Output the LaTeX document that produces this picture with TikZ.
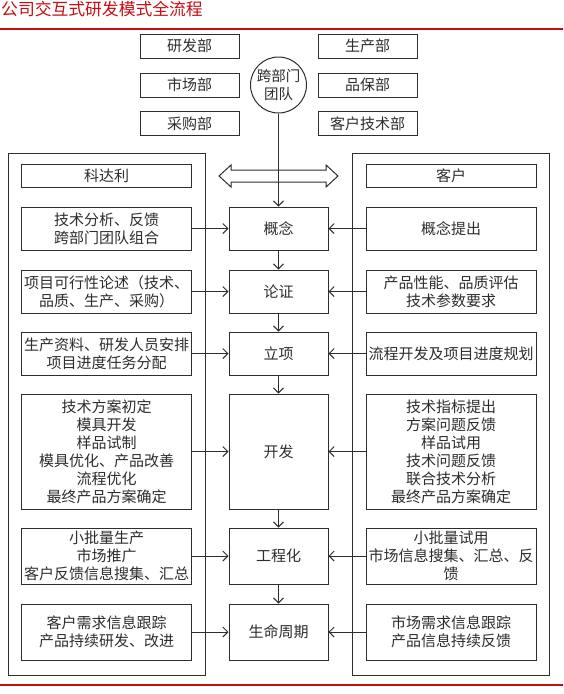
\documentclass[tikz,border=0pt]{standalone}
\usepackage{fontspec}
\setmainfont{Noto Sans CJK SC}
\usetikzlibrary{arrows.meta}
\definecolor{redline}{RGB}{200,12,20}
\definecolor{ink}{RGB}{45,45,45}
\begin{document}
\begin{tikzpicture}[x=1pt,y=-1pt,
  box/.style={draw=ink, line width=1pt, inner sep=0pt, align=center, text=ink,
              font=\fontsize{15}{18}\selectfont},
  subbox/.style={box, minimum width=170, minimum height=#1},
  midbox/.style={box, minimum width=99, minimum height=#1},
  dept/.style={box, minimum width=99, minimum height=24},
  frame/.style={draw=ink, line width=1pt},
  arr/.style={draw=ink, line width=1pt, -{Straight Barb[length=5pt,width=10pt]}},
  redrule/.style={draw=redline, line width=2.5pt}]
\fill[white] (0,0) rectangle (563,694);
\useasboundingbox (0,0) rectangle (563,694);

% title and rules
\node[anchor=west, inner sep=0pt, text=redline, font=\fontsize{16.8}{17}\selectfont] (title) at (1,9) {公司交互式研发模式全流程};
\draw[redrule] (0,29) -- (563,29);
\draw[redrule] (0,685) -- (563,685);

% departments
\node[dept] (rd) at (189.5,46) {研发部};
\node[dept] (mk) at (189.5,85) {市场部};
\node[dept] (pu) at (189.5,123.5) {采购部};
\node[dept] (pr) at (367.5,46) {生产部};
\node[dept] (qa) at (367.5,85) {品保部};
\node[dept] (ct) at (367.5,123.5) {客户技术部};
\node[box, circle, minimum size=56, font=\fontsize{14.5}{18}\selectfont] (team) at (278.5,85) {跨部门\\团队};

% big frames
\draw[frame] (8,153) rectangle (205,675);
\draw[frame] (352,153) rectangle (549,675);

% headers
\node[subbox=23] (hl) at (106.5,175.5) {科达利};
\node[subbox=23] (hr) at (451,175.5) {客户};

% double arrow
\draw[frame, line join=miter] (219,176) -- (231,165) -- (231,170) -- (326,170) -- (326,165)
  -- (338,176) -- (326,187) -- (326,182) -- (231,182) -- (231,187) -- cycle;

% centre column
\node[midbox=43] (c1) at (278.5,228.5) {概念};
\node[midbox=43] (c2) at (278.5,291.5) {论证};
\node[midbox=43] (c3) at (278.5,353.5) {立项};
\node[midbox=115] (c4) at (278.5,451.5) {开发};
\node[midbox=56] (c5) at (278.5,556) {工程化};
\node[midbox=56] (c6) at (278.5,632) {生命周期};

% left column
\node[subbox=43] (l1) at (106.5,228.5) {技术分析、反馈\\跨部门团队组合};
\node[subbox=43] (l2) at (106.5,291.5) {项目可行性论述（技术、\\品质、生产、采购）};
\node[subbox=43] (l3) at (106.5,353.5) {生产资料、研发人员安排\\项目进度任务分配};
\node[subbox=115] (l4) at (106.5,451.5) {技术方案初定\\模具开发\\样品试制\\模具优化、产品改善\\流程优化\\最终产品方案确定};
\node[subbox=56] (l5) at (106.5,556) {小批量生产\\市场推广\\客户反馈信息搜集、汇总};
\node[subbox=56] (l6) at (106.5,632) {客户需求信息跟踪\\产品持续研发、改进};

% right column
\node[subbox=43] (r1) at (451,228.5) {概念提出};
\node[subbox=43] (r2) at (451,291.5) {产品性能、品质评估\\技术参数要求};
\node[subbox=43] (r3) at (451,353.5) {流程开发及项目进度规划};
\node[subbox=115] (r4) at (451,451.5) {技术指标提出\\方案问题反馈\\样品试用\\技术问题反馈\\联合技术分析\\最终产品方案确定};
\node[subbox=56] (r5) at (451,556) {小批量试用\\市场信息搜集、汇总、反\\馈};
\node[subbox=56] (r6) at (451,632) {市场需求信息跟踪\\产品信息持续反馈};

% connectors
\draw[arr] (team.south) -- (c1.north);
\foreach \a/\b in {c1/c2,c2/c3,c3/c4,c4/c5,c5/c6}{\draw[arr] (\a.south) -- (\b.north);}
\foreach \i in {1,...,6}{
  \draw[arr] (l\i.east) -- (c\i.west);
  \draw[arr] (r\i.west) -- (c\i.east);
}
\end{tikzpicture}
\end{document}
